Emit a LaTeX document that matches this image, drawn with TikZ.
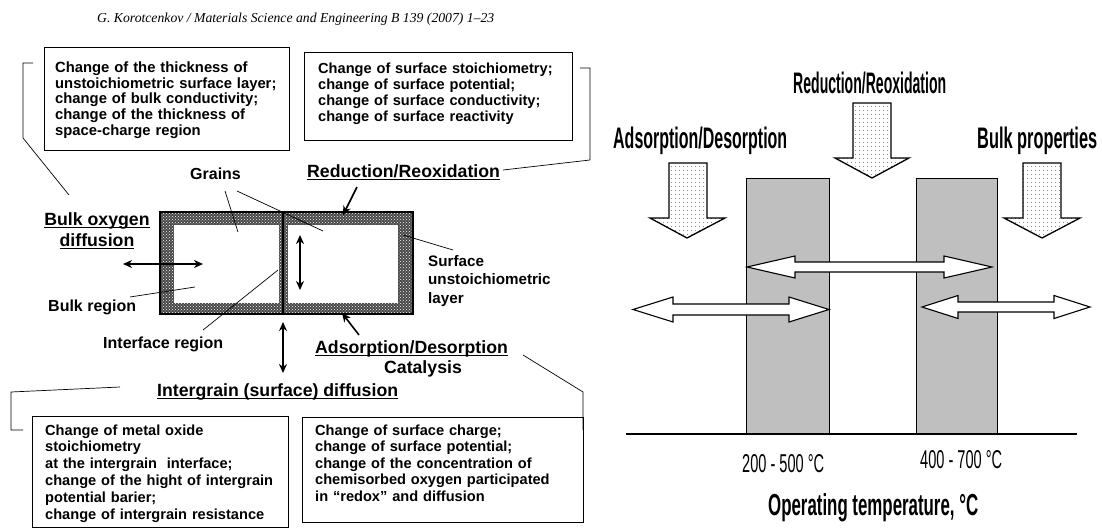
\documentclass[tikz,border=0pt]{standalone}
\usepackage{fontspec}
\setmainfont{Liberation Sans}
\newfontfamily\serifit{Liberation Serif}
\usepackage{graphicx}
\usetikzlibrary{patterns,patterns.meta,arrows.meta}
\newcommand\myul[1]{\mbox{\setbox0\hbox{#1}\rlap{\rule[-3pt]{\wd0}{1.1pt}}\box0}}
\newcommand\nar[3]{\resizebox{#1pt}{#2pt}{\fontsize{29}{30}\selectfont\bfseries #3}}
\begin{document}
\begin{tikzpicture}[x=1pt,y=-1pt,
  frame/.style={draw, line width=0.9pt, inner sep=0, anchor=north west},
  boxtxt/.style={inner sep=0, anchor=base west, align=left, text width=#1},
  lbl/.style={font=\fontsize{16}{18}\selectfont\bfseries, inner sep=0, anchor=base west},
  ulbl/.style={font=\fontsize{17.7}{21}\selectfont\bfseries, inner sep=0, anchor=base west},
  leader/.style={line width=0.7pt},
  dbl/.style={{Stealth[length=9pt,width=8pt]}-{Stealth[length=9pt,width=8pt]}, line width=1.6pt},
  ptr/.style={-{Stealth[length=9pt,width=8pt]}, line width=1.6pt},
  hollow/.style={draw, fill=white, line width=1.1pt, line join=miter},
  dotarrow/.style={draw, line width=1.3pt, line join=miter, pattern={Dots[distance=4pt, radius=0.55pt]}, pattern color=black!80},
  bar/.style={draw, fill=black!25, line width=1pt},
  chart/.style={inner sep=0, anchor=base west}]
\useasboundingbox (0,0) rectangle (1102,530);

% header
\node[inner sep=0, anchor=base west, font=\serifit\itshape\fontsize{13.7}{16}\selectfont] (hdr) at (97,23)
  {G. Korotcenkov / Materials Science and Engineering B 139 (2007) 1–23};

% ---------- boxes ----------
\node[frame, minimum width=245pt, minimum height=103pt] (b1) at (44,47) {};
\node[boxtxt=240pt, font=\fontsize{14.8}{15.7}\selectfont\bfseries] (t1) at (55,72.3)
  {Change of the thickness of\\unstoichiometric surface layer;\\change of bulk conductivity;\\change of the thickness of\\space-charge region};

\node[frame, minimum width=268pt, minimum height=88pt] (b2) at (304,52) {};
\node[boxtxt=250pt, font=\fontsize{14.6}{16.3}\selectfont\bfseries] (t2) at (318,73)
  {Change of surface stoichiometry;\\change of surface potential;\\change of surface conductivity;\\change of surface reactivity};

\node[frame, minimum width=256pt, minimum height=111pt] (b3) at (32,416) {};
\node[boxtxt=240pt, font=\fontsize{14.6}{16.8}\selectfont\bfseries] (t3) at (45,435)
  {Change of metal oxide\\stoichiometry\\at the intergrain\ \ interface;\\change of the hight of intergrain\\potential barier;\\change of intergrain resistance};

\node[frame, minimum width=281pt, minimum height=105pt] (b4) at (302,417) {};
\node[boxtxt=265pt, font=\fontsize{14.6}{16.5}\selectfont\bfseries] (t4) at (315,435)
  {Change of surface charge;\\change of surface potential;\\change of the concentration of\\chemisorbed oxygen participated\\in “redox” and diffusion};

% ---------- grains ----------
\fill[black!72] (160,212) rectangle (413,314);
\fill[pattern=crosshatch dots, pattern color=white] (160,212) rectangle (413,314);
\fill[white] (174,225) rectangle (279,303);
\fill[white] (288,225) rectangle (398,303);
\draw[line width=1.5pt] (160,212) rectangle (413,314);
\draw[line width=2pt] (283,212) -- (283,314);

% ---------- labels ----------
\node[lbl] (grains) at (190,179) {Grains};
\node[ulbl] (red) at (307,177) {\myul{Reduction/Reoxidation}};
\node[ulbl, anchor=base] (bod1) at (97,225) {\myul{Bulk oxygen}};
\node[ulbl, anchor=base] (bod2) at (97,246) {\myul{diffusion}};
\node[lbl] (bulk) at (48,311) {Bulk region};
\node[lbl] (intf) at (103,348) {Interface region};
\node[inner sep=0, anchor=base west, align=left, text width=150pt, font=\fontsize{15.2}{18.5}\selectfont\bfseries] (surf) at (428,266)
  {Surface\\unstoichiometric\\layer};
\node[ulbl] (ads) at (315,353) {\myul{Adsorption/Desorption}};
\node[ulbl, anchor=base] (cat) at (423,373) {Catalysis};
\node[ulbl] (igd) at (157,396) {\myul{Intergrain (surface) diffusion}};

% leader coordinates
\coordinate (g1a) at (225,191); \coordinate (g1b) at (238,232);
\coordinate (g2a) at (237,191); \coordinate (g2b) at (323,231);
\coordinate (bra) at (130,297); \coordinate (brb) at (195,287);
\coordinate (ira) at (203,330); \coordinate (irb) at (278,270);
\coordinate (sla) at (453,250); \coordinate (slb) at (403,235);
\draw[leader] (g1a) -- (g1b);
\draw[leader] (g2a) -- (g2b);
\draw[leader] (bra) -- (brb);
\draw[leader] (ira) -- (irb);
\draw[leader] (sla) -- (slb);

% brackets
\coordinate (k1s) at (33,63); \coordinate (k1c1) at (23,63); \coordinate (k1c2) at (23,138); \coordinate (k1e) at (69,195);
\draw[leader] (k1s) -- (k1c1) -- (k1c2) -- (k1e);
\coordinate (k2s) at (580,68); \coordinate (k2c1) at (590,68); \coordinate (k2c2) at (590,160); \coordinate (k2e) at (503,170);
\draw[leader] (k2s) -- (k2c1) -- (k2c2) -- (k2e);
\coordinate (k3s) at (120,387); \coordinate (k3c1) at (11,392); \coordinate (k3c2) at (11,430); \coordinate (k3e) at (23,430);
\draw[leader] (k3s) -- (k3c1) -- (k3c2) -- (k3e);
\coordinate (k4s) at (523,355); \coordinate (k4c1) at (583,392); \coordinate (k4e) at (583,430);
\draw[leader] (k4s) -- (k4c1) -- (k4e);

% arrows in grain picture
\coordinate (da1) at (123,264); \coordinate (da2) at (203,264);
\draw[dbl] (da1) -- (da2);
\coordinate (dv1) at (300,235); \coordinate (dv2) at (300,290);
\draw[dbl] (dv1) -- (dv2);
\coordinate (db1) at (283,322); \coordinate (db2) at (283,373);
\draw[dbl] (db1) -- (db2);
\coordinate (ra1) at (357,187); \coordinate (ra2) at (343,215);
\draw[ptr] (ra1) -- (ra2);
\coordinate (aa1) at (359,335); \coordinate (aa2) at (342,313);
\draw[ptr] (aa1) -- (aa2);

% ---------- right chart ----------
\draw[bar] (746,178) rectangle (829,434);
\draw[bar] (916,178) rectangle (997,434);
\draw[line width=1.2pt] (626,434) -- (1077,434);

\draw[dotarrow] (853,103) -- (891,103) -- (891,158) -- (909,158) -- (872,178) -- (835,158) -- (853,158) -- cycle;
\draw[dotarrow] (669,163) -- (707,163) -- (707,218) -- (725,218) -- (687,238) -- (650,218) -- (669,218) -- cycle;
\draw[dotarrow] (1023,163) -- (1061,163) -- (1061,218) -- (1080,218) -- (1042,238) -- (1004,218) -- (1023,218) -- cycle;

\draw[hollow] (747,267) -- (795,256) -- (795,262) -- (944,262) -- (944,256) -- (992,267) -- (944,278) -- (944,272) -- (795,272) -- (795,278) -- cycle;
\draw[hollow] (633,309.5) -- (673,297) -- (673,304) -- (789,304) -- (789,297) -- (829,309.5) -- (789,322) -- (789,315) -- (673,315) -- (673,322) -- cycle;
\draw[hollow] (922,307) -- (958,295.5) -- (958,302) -- (1054,302) -- (1054,295.5) -- (1090,307) -- (1054,318.5) -- (1054,312) -- (958,312) -- (958,318.5) -- cycle;

\node[chart] (cred) at (793,93) {\nar{153}{21.5}{Reduction/Reoxidation}};
\node[chart] (cads) at (613,148) {\nar{174}{21.5}{Adsorption/Desorption}};
\node[chart] (cbulk) at (977,148) {\nar{120}{21.5}{Bulk properties}};
\node[chart] (t200) at (742,472) {\resizebox{82pt}{18pt}{\fontsize{20}{22}\selectfont 200 - 500 °C}};
\node[chart] (t400) at (920,468) {\resizebox{82pt}{18pt}{\fontsize{20}{22}\selectfont 400 - 700 °C}};
\node[chart] (optemp) at (768,515) {\nar{210}{22}{Operating temperature, °C}};
\end{tikzpicture}
\end{document}
